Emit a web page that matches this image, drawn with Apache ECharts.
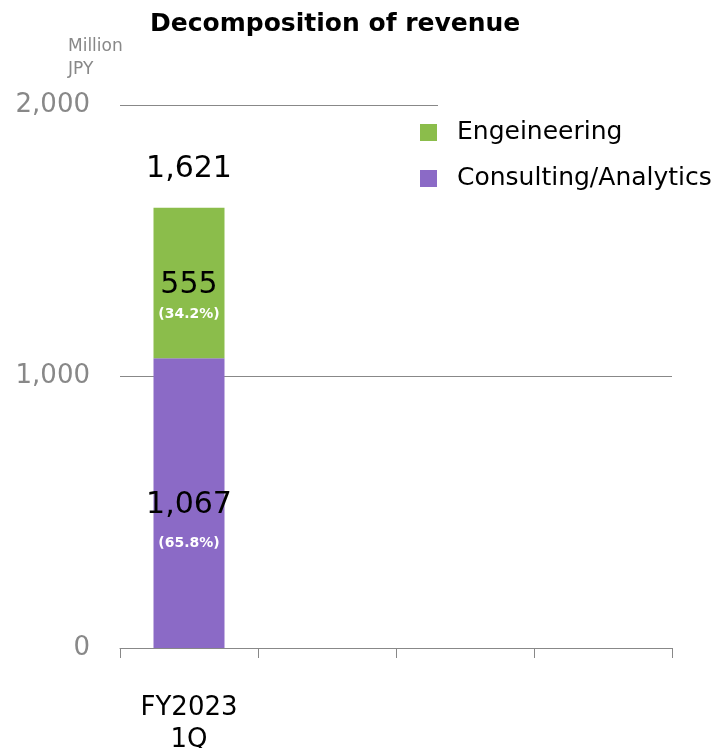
<!DOCTYPE html>
<html>
<head>
<meta charset="utf-8">
<script src="https://cdn.jsdelivr.net/npm/echarts@6/dist/echarts.min.js"></script>
<style>
  html, body { margin: 0; padding: 0; background: #fff; }
  #chart { width: 720px; height: 748px; }
</style>
</head>
<body>
<div id="chart"></div>
<script>
// Revenue by business line, million JPY
const categories = ['FY2023\n1Q', '', '', ''];
const consulting = [1067, null, null, null];
const engineering = [555, null, null, null];
const consultingShare = ['65.8%', '', '', ''];
const engineeringShare = ['34.2%', '', '', ''];
const totals = [1621, null, null, null];
const yTicks = [0, 1000, 2000];

const FONT = 'DejaVu Sans';
const fmt = v => v.toLocaleString('en-US');

// value on the first line, share in small white bold type below it
function segmentLabel(shares, shareLineHeight, dy) {
  return {
    show: true,
    position: 'inside',
    offset: [0, dy],
    formatter: p => p.value == null ? '' : '{v|' + fmt(p.value) + '}\n{p|(' + shares[p.dataIndex] + ')}',
    rich: {
      v: { fontFamily: FONT, fontSize: 30, color: '#000', lineHeight: 34 },
      p: { fontFamily: FONT, fontSize: 14, fontWeight: 'bold', color: '#fff', lineHeight: shareLineHeight }
    }
  };
}

const chart = echarts.init(document.getElementById('chart'));
chart.setOption({
  animation: false,
  backgroundColor: '#fff',
  title: {
    text: 'Decomposition of revenue',
    left: 145, top: 7,
    textStyle: { fontFamily: FONT, fontSize: 25, fontWeight: 'bold', color: '#000' }
  },
  legend: {
    orient: 'vertical',
    left: 415, top: 115,
    itemWidth: 17, itemHeight: 17, itemGap: 21,
    icon: 'rect',
    data: ['Engeineering', 'Consulting/Analytics'],
    textStyle: { fontFamily: FONT, fontSize: 25, color: '#000', padding: [0, 0, 0, 15] }
  },
  graphic: [
    { type: 'rect', z: 100, shape: { x: 438, y: 98, width: 282, height: 14 }, style: { fill: '#fff' } },
    { type: 'text', left: 68, top: 35, z: 100,
      style: { text: 'Million\nJPY', fontFamily: FONT, fontSize: 17, lineHeight: 23, fill: '#888' } }
  ],
  grid: { left: 120, right: 48, top: 105, bottom: 100, outerBoundsMode: 'none', containLabel: false },
  xAxis: {
    type: 'category',
    data: categories,
    axisLine: { lineStyle: { color: '#888', width: 1 } },
    axisTick: { show: true, length: 10, alignWithLabel: false, lineStyle: { color: '#888' } },
    axisLabel: { fontFamily: FONT, fontSize: 26, color: '#000', lineHeight: 32, margin: 44 }
  },
  yAxis: {
    type: 'value',
    min: yTicks[0], max: yTicks[2], interval: yTicks[1] - yTicks[0],
    axisLine: { show: false },
    axisTick: { show: false },
    splitLine: { lineStyle: { color: '#888', width: 1 } },
    axisLabel: { fontFamily: FONT, fontSize: 26, color: '#888', margin: 30, formatter: v => fmt(v) }
  },
  series: [
    {
      name: 'Consulting/Analytics', type: 'bar', stack: 'rev', barWidth: 71,
      data: consulting, itemStyle: { color: '#8B6AC6' },
      label: segmentLabel(consultingShare, 42, 23)
    },
    {
      name: 'Engeineering', type: 'bar', stack: 'rev', barWidth: 71,
      data: engineering, itemStyle: { color: '#8BBD4B' },
      label: segmentLabel(engineeringShare, 24, 14)
    },
    {
      name: 'Total', type: 'bar', stack: 'rev', barWidth: 71,
      data: totals.map(t => t == null ? null : 0),
      itemStyle: { color: 'transparent' },
      label: {
        show: true, position: 'top', distance: 23,
        formatter: p => totals[p.dataIndex] == null ? '' : fmt(totals[p.dataIndex]),
        fontFamily: FONT, fontSize: 30, color: '#000'
      }
    }
  ]
});
</script>
</body>
</html>
